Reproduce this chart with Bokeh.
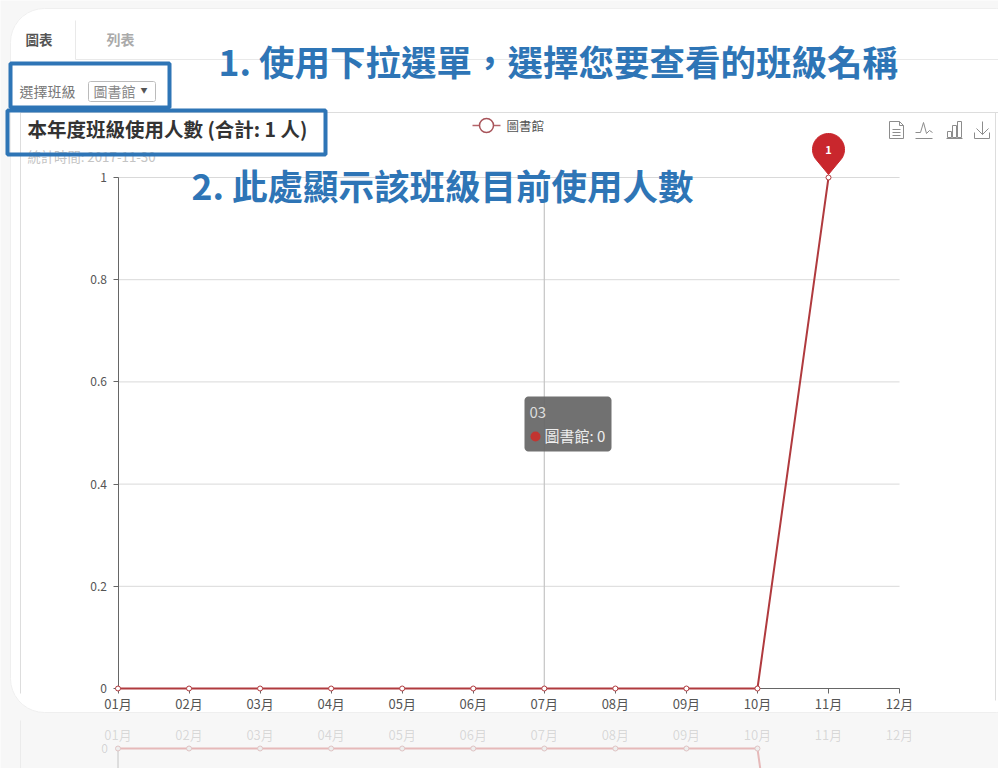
import numpy as np
from bokeh.plotting import figure
from bokeh.models import Range1d, LinearAxis, FixedTicker
from bokeh.core.properties import value
from bokeh.embed import file_html
from bokeh.resources import INLINE

months = ["01月","02月","03月","04月","05月","06月","07月","08月","09月","10月","11月","12月"]
series_name = "圖書館"
counts = [0, 0, 0, 0, 0, 0, 0, 0, 0, 0, 1]
y_ticks = [0, 0.2, 0.4, 0.6, 0.8, 1]
y_labels = ["0", "0.2", "0.4", "0.6", "0.8", "1"]
title_text = "本年度班級使用人數 (合計: 1 人)"
subtitle_text = "統計時間: 2017-11-30"
note_1 = "1. 使用下拉選單\uff0c選擇您要查看的班級名稱"
note_2 = "2. 此處顯示該班級目前使用人數"
tabs = ["圖表", "列表"]
select_label = "選擇班級"
tip_title = "03"
tip_body = "圖書館: 0"
tip_index = 6

FONT = "Noto Sans CJK TC"
W, H = 998, 768
X0, DX = 117.5, 71.05     # reference px of the first month, px per month
Y0, DY = 688.0, 511.0     # reference px of value 0, px per unit
YR = 748.0                # reference px of the mirrored baseline
L, R, T, B = 0.0, 998.0, 0.0, 768.0

p = figure(width=W, height=H, output_backend="svg", toolbar_location=None,
           x_range=Range1d((L - X0) / DX, (R - X0) / DX),
           y_range=Range1d((Y0 - B) / DY, (Y0 - T) / DY),
           min_border=0, x_axis_type=None, y_axis_type=None,
           background_fill_color="#f7f7f7", border_fill_color="#f7f7f7",
           outline_line_color=None)
p.grid.visible = False
p.extra_x_ranges["px"] = Range1d(L, R)
p.extra_y_ranges["px"] = Range1d(B, T)
p.extra_y_ranges["mirror"] = Range1d((B - YR) / DY, (T - YR) / DY)

PX = dict(x_range_name="px", y_range_name="px")
MIR = dict(y_range_name="mirror")

def rounded(x0, y0, x1, y1, r):
    xs, ys = [], []
    for cx, cy, a0 in [(x1 - r, y0 + r, -90), (x1 - r, y1 - r, 0), (x0 + r, y1 - r, 90), (x0 + r, y0 + r, 180)]:
        t = np.radians(np.linspace(a0, a0 + 90, 10))
        xs += list(cx + r * np.cos(t))
        ys += list(cy + r * np.sin(t))
    return xs, ys

def txt(x, y, s, size, color, style="normal", align="left", alpha=1.0, level="annotation"):
    p.text([x], [y], text=[s], text_font=value(FONT), text_font_size=f"{size}px",
           text_color=color, text_font_style=style, text_align=align, text_alpha=alpha,
           text_baseline="middle", level=level, **PX)

def lines(segs, color="#8a8a8a", width=1.0, alpha=1.0, level="glyph"):
    p.multi_line([s[0] for s in segs], [s[1] for s in segs], line_color=color,
                 line_width=width, line_alpha=alpha, level=level, **PX)

# white card
cx, cy = rounded(10, 8, 1030, 712, 34)
p.patch(cx, cy, fill_color="#ffffff", line_color="#efefef", line_width=1, **PX)

# tabs and chart frame
lines([([75, 75], [20, 59]), ([75, 998], [59, 59])], color="#e9e9e9")
lines([([20, 998], [112, 112]), ([20, 20], [112, 693]), ([995, 995], [112, 700])], color="#dddddd")
lines([([20, 20], [720, 768])], color="#ebebeb")
txt(25, 38, tabs[0], 13.5, "#555555", "bold")
txt(106, 38, tabs[1], 14, "#aaaaaa", "bold")

# selector
txt(19, 90, select_label, 14, "#777777")
bx, by = rounded(88, 81, 155, 101, 2)
p.patch(bx, by, fill_color="#ffffff", line_color="#bbbbbb", line_width=1, **PX)
txt(93, 90, series_name, 14, "#888888")
txt(140, 89, "▼", 7, "#555555")

# plot grid, crosshair, axes
p.segment(x0=[0] * len(y_ticks), x1=[len(months) - 1] * len(y_ticks), y0=y_ticks, y1=y_ticks,
          line_color="#d9d9d9", line_width=1)
p.segment(x0=[tip_index], x1=[tip_index], y0=[min(y_ticks)], y1=[max(y_ticks)],
          line_color="#c4c4c4", line_width=1.2)

xax = LinearAxis(fixed_location=0, bounds=(0, len(months) - 1),
                 ticker=FixedTicker(ticks=list(range(len(months)))),
                 major_label_overrides={i: m for i, m in enumerate(months)})
yax = LinearAxis(fixed_location=0, bounds=(0, 1), ticker=FixedTicker(ticks=y_ticks),
                 major_label_overrides={t: l for t, l in zip(y_ticks, y_labels)})
for ax in (xax, yax):
    ax.axis_line_color = "#666666"
    ax.major_tick_line_color = "#666666"
    ax.major_tick_in = 0
    ax.major_tick_out = 5
    ax.minor_tick_line_color = None
    ax.major_label_text_color = "#555555"
    ax.major_label_text_font = FONT
xax.major_label_text_font_size = "13px"
yax.major_label_text_font_size = "12px"
xax.major_label_standoff = 0
yax.major_label_standoff = 6
p.add_layout(xax, "below")
p.add_layout(yax, "left")

# series
xs = list(range(len(counts)))
p.line(xs, counts, line_color="#b03a3e", line_width=2, level="annotation")
p.scatter(xs, counts, size=5, fill_color="#ffffff", line_color="#b03a3e", line_width=1, level="annotation")

# mirrored reflection under the card
p.segment(x0=[0], x1=[0], y0=[0], y1=[1], line_color="#c4c4c4", line_width=1, **MIR)
p.line(xs, counts, line_color="#e6b9b9", line_width=2, **MIR)
p.scatter(xs, counts, size=5, fill_color="#eeeeee", line_color="#e0c4c4", **MIR)
for i, m in enumerate(months):
    txt(X0 + i * DX, 734, m, 13, "#555555", align="center", alpha=0.2)
txt(104, 748, "0", 12, "#555555", align="center", alpha=0.22)

# pin on the maximum
peak = int(np.argmax(counts))
pin_x = X0 + peak * DX
t = np.radians(np.linspace(-35, 215, 40))
pin_xs = [pin_x] + list(pin_x + 16 * np.cos(t)) + [pin_x]
pin_ys = [Y0 - DY - 3] + list(Y0 - DY - 28 - 16 * np.sin(t)) + [Y0 - DY - 3]
p.patch(pin_xs, pin_ys, fill_color="#c9272d", line_color="#c9272d", level="annotation", **PX)
txt(pin_x, Y0 - DY - 28, str(max(counts)), 11, "#ffffff", "bold", "center")

# legend
lines([([472, 500], [125, 125])], color="#b5646a", width=1.5, level="annotation")
p.circle([486], [125], radius=7, fill_color="#ffffff", line_color="#a8545a", line_width=1.5,
         level="annotation", **PX)
txt(506, 125, series_name, 12.5, "#555555")

# tool icons
icon = [
    ([889, 889, 903, 903, 899, 889], [121, 138, 138, 125, 121, 121]),
    ([899, 899, 903], [121, 125, 125]),
    ([892, 900], [129, 129]), ([892, 900], [132, 132]), ([892, 900], [135, 135]),
    ([915, 920, 923, 926, 929, 932], [132, 132, 122, 133, 130, 132]),
    ([915, 932], [138, 138]),
    ([947, 947, 951, 951, 947], [131, 137, 137, 131, 131]),
    ([952, 952, 956, 956, 952], [125, 137, 137, 125, 125]),
    ([957, 957, 961, 961, 957], [121, 137, 137, 121, 121]),
    ([946, 962], [138, 138]),
    ([982, 982], [121, 134]), ([976, 982, 988], [128, 134, 128]),
    ([974, 974, 989, 989], [132, 138, 138, 132]),
]
lines(icon, color="#8c8c8c", width=1, level="annotation")

# tooltip
tx, ty = rounded(524, 396, 611, 451, 4)
p.patch(tx, ty, fill_color="#666666", fill_alpha=0.93, line_color=None, level="annotation", **PX)
txt(529, 412, tip_title, 15, "#dddddd")
p.circle([535], [436], radius=5, fill_color="#c23531", line_color=None, level="annotation", **PX)
txt(544, 435, tip_body, 15, "#eeeeee")

# title block and callouts
txt(27, 128, title_text, 19.5, "#333333", "bold")
txt(27, 156, subtitle_text, 13.3, "#c4c4c4")
for x0, y0, x1, y1 in [(10, 63, 169, 107), (7, 110, 325, 154)]:
    p.quad(left=[x0], right=[x1], top=[y0], bottom=[y1], fill_color=None, line_color="#2e75b6",
           line_width=4, level="annotation", **PX)
txt(218, 60, note_1, 35.5, "#2e75b6", "bold")
txt(191, 184, note_2, 35.5, "#2e75b6", "bold")

open("out.html", "w").write(file_html(p, INLINE))
